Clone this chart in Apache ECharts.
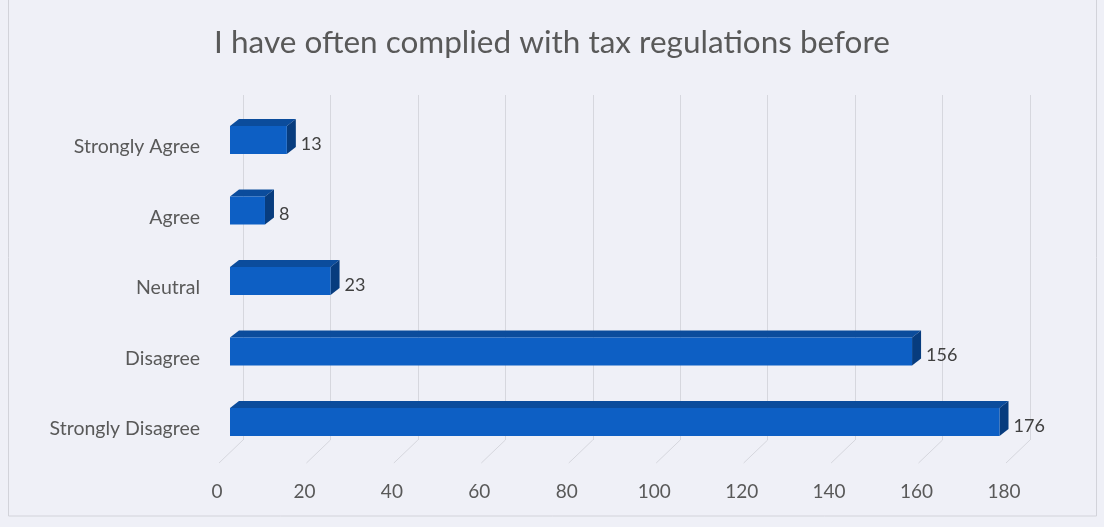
<!DOCTYPE html>
<html>
<head>
<meta charset="utf-8">
<script src="https://cdn.jsdelivr.net/npm/echarts@6/dist/echarts.min.js"></script>
<style>
  html, body { margin: 0; padding: 0; background: #eff0f7; }
  #chart { width: 1104px; height: 527px; }
</style>
</head>
<body>
<div id="chart"></div>
<script>
// Survey responses
const categories = ['Strongly Agree', 'Agree', 'Neutral', 'Disagree', 'Strongly Disagree'];
const counts = [13, 8, 23, 156, 176];
const tickValues = [0, 20, 40, 60, 80, 100, 120, 140, 160, 180];

const FONT = 'Lato, "Open Sans", sans-serif';
const TEXT = '#595959';

// Oblique depth of the bars and of the chart floor
const BAR_DX = 9, BAR_DY = -7;
const FLOOR_DX = -24, FLOOR_DY = 23;

const chart = echarts.init(document.getElementById('chart'), null, { renderer: 'canvas' });

const xBase = { type: 'value', min: 0, max: 180, interval: 20 };

chart.setOption({
  backgroundColor: '#eff0f7',
  title: {
    text: 'I have often complied with tax regulations before',
    left: 'center',
    top: 22,
    textStyle: { fontFamily: FONT, fontSize: 31.5, fontWeight: 'normal', color: TEXT }
  },
  graphic: [{
    type: 'rect',
    shape: { x: 8.5, y: -2, width: 1088, height: 518 },
    style: { fill: 'none', stroke: '#d2d3da', lineWidth: 1 },
    silent: true
  }],
  grid: [
    // bar plane
    { left: 230, right: 87, top: 104.75, height: 352.5 },
    // back wall
    { left: 243, right: 74, top: 95, height: 345 },
    // front edge of the floor (axis labels)
    { left: 217, right: 100, top: 111.75, height: 352.5 }
  ],
  xAxis: [
    Object.assign({ gridIndex: 0, show: false }, xBase),
    Object.assign({
      gridIndex: 1,
      axisLine: { show: false }, axisTick: { show: false }, axisLabel: { show: false },
      splitLine: { show: true, lineStyle: { color: '#d6d7de', width: 1 } }
    }, xBase),
    Object.assign({
      gridIndex: 2,
      axisLine: { show: false }, axisTick: { show: false }, splitLine: { show: false },
      axisLabel: { show: true, margin: 18, color: TEXT, fontFamily: FONT, fontSize: 19 }
    }, xBase)
  ],
  yAxis: [
    { gridIndex: 0, type: 'category', data: categories, inverse: true, show: false },
    { gridIndex: 1, type: 'value', min: 0, max: 1, show: false },
    {
      gridIndex: 2, type: 'category', data: categories, inverse: true,
      axisLine: { show: false }, axisTick: { show: false }, splitLine: { show: false },
      axisLabel: { margin: 17, color: TEXT, fontFamily: FONT, fontSize: 19.5 }
    }
  ],
  series: [
    {
      // slanted floor lines running from the back wall to the front edge
      type: 'custom',
      xAxisIndex: 1, yAxisIndex: 1,
      silent: true,
      data: tickValues,
      renderItem: function (params, api) {
        const p = api.coord([api.value(0), 0]);
        return {
          type: 'line',
          shape: { x1: p[0], y1: p[1], x2: p[0] + FLOOR_DX, y2: p[1] + FLOOR_DY },
          style: { stroke: '#d6d7de', lineWidth: 1 }
        };
      }
    },
    {
      // 3D bars: front face, top face and right side face
      type: 'custom',
      xAxisIndex: 0, yAxisIndex: 0,
      data: counts.map((v, i) => [v, i]),
      renderItem: function (params, api) {
        const v = api.value(0), idx = api.value(1);
        const end = api.coord([v, idx]);
        const start = api.coord([0, idx]);
        const h = api.size([0, 1])[1] * 0.4;
        const x0 = start[0], x1 = end[0];
        const yt = end[1] - h / 2, yb = end[1] + h / 2;
        return {
          type: 'group',
          children: [
            {
              type: 'polygon',
              shape: { points: [[x0, yt], [x0 + BAR_DX, yt + BAR_DY], [x1 + BAR_DX, yt + BAR_DY], [x1, yt]] },
              style: { fill: '#0b4c9c' }
            },
            {
              type: 'polygon',
              shape: { points: [[x1, yt], [x1 + BAR_DX, yt + BAR_DY], [x1 + BAR_DX, yb + BAR_DY], [x1, yb]] },
              style: { fill: '#073c7e' }
            },
            {
              type: 'rect',
              shape: { x: x0, y: yt, width: x1 - x0, height: h },
              style: { fill: '#0d5fc4' }
            },
            {
              type: 'text',
              style: {
                text: String(v),
                x: x1 + BAR_DX + 5, y: end[1] + 4,
                align: 'left', verticalAlign: 'middle',
                fill: '#404040', font: '18px ' + FONT
              }
            }
          ]
        };
      }
    }
  ]
});
</script>
</body>
</html>
